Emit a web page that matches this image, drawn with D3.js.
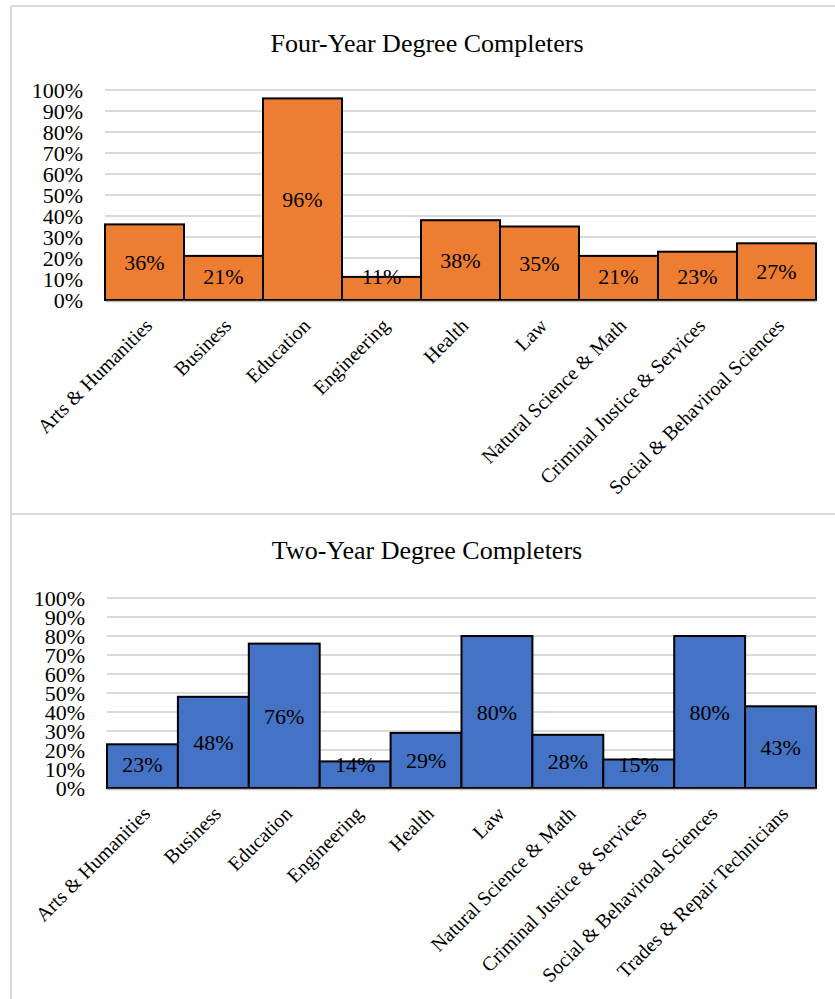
<!DOCTYPE html>
<html>
<head>
<meta charset="utf-8">
<script src="https://cdn.jsdelivr.net/npm/d3@7"></script>
<style>
  html, body { margin: 0; padding: 0; background: #fff; }
  svg { display: block; }
  text { font-family: "Liberation Serif", "Times New Roman", serif; fill: #000; }
</style>
</head>
<body>
<svg id="chart" width="835" height="999"></svg>
<script>
// Share of completers by field of study
const fourYearTitle = "Four-Year Degree Completers";
const fourYearCategories = ["Arts & Humanities", "Business", "Education", "Engineering", "Health", "Law",
  "Natural Science & Math", "Criminal Justice & Services", "Social & Behaviroal Sciences"];
const fourYearValues = [0.36, 0.21, 0.96, 0.11, 0.38, 0.35, 0.21, 0.23, 0.27];

const twoYearTitle = "Two-Year Degree Completers";
const twoYearCategories = ["Arts & Humanities", "Business", "Education", "Engineering", "Health", "Law",
  "Natural Science & Math", "Criminal Justice & Services", "Social & Behaviroal Sciences",
  "Trades & Repair Technicians"];
const twoYearValues = [0.23, 0.48, 0.76, 0.14, 0.29, 0.80, 0.28, 0.15, 0.80, 0.43];

const yTicks = [0, 0.1, 0.2, 0.3, 0.4, 0.5, 0.6, 0.7, 0.8, 0.9, 1.0];

const svg = d3.select("#chart");
const pct = d3.format(".0%");

// Panel frames
const frame = svg.append("g").attr("stroke", "#d9d9d9").attr("stroke-width", 2);
frame.append("line").attr("x1", 11).attr("x2", 835).attr("y1", 6).attr("y2", 6);
frame.append("line").attr("x1", 11).attr("x2", 11).attr("y1", 6).attr("y2", 999);
frame.append("line").attr("x1", 11).attr("x2", 835).attr("y1", 514).attr("y2", 514);

function drawPanel(cfg) {
  const g = svg.append("g");
  const x = d3.scaleBand().domain(cfg.categories).range([cfg.left, cfg.right]).padding(0);
  const y = d3.scaleLinear().domain([0, 1]).range([cfg.bottom, cfg.top]);

  // Title
  g.append("text")
    .attr("x", cfg.titleX).attr("y", cfg.titleY)
    .attr("text-anchor", "middle")
    .attr("font-size", 26)
    .text(cfg.title);

  // Gridlines
  g.append("g").selectAll("line").data(yTicks.filter(t => t > 0)).join("line")
    .attr("x1", cfg.left).attr("x2", cfg.right)
    .attr("y1", d => y(d)).attr("y2", d => y(d))
    .attr("stroke", "#d9d9d9").attr("stroke-width", 2);

  // Y axis labels
  const yAxis = d3.axisLeft(y).tickValues(yTicks).tickFormat(pct).tickSize(0).tickPadding(0);
  const ya = g.append("g").attr("transform", `translate(${cfg.left - 22},0)`).call(yAxis);
  ya.select(".domain").remove();
  ya.selectAll("text")
    .attr("font-family", "Liberation Serif, Times New Roman, serif")
    .attr("font-size", 22).attr("fill", "#000").attr("dy", "0.34em");

  // Bars
  g.append("g").selectAll("rect").data(cfg.values).join("rect")
    .attr("x", (d, i) => x(cfg.categories[i]))
    .attr("width", x.bandwidth())
    .attr("y", d => y(d))
    .attr("height", d => y(0) - y(d))
    .attr("fill", cfg.color)
    .attr("stroke", "#000").attr("stroke-width", 2);

  // Category axis line with boundary ticks
  g.append("line")
    .attr("x1", cfg.left).attr("x2", cfg.right)
    .attr("y1", y(0) + 1.5).attr("y2", y(0) + 1.5)
    .attr("stroke", "#bfbfbf").attr("stroke-width", 1.5);

  // Value labels, centred in each bar but kept inside the plot area
  g.append("g").selectAll("text").data(cfg.values).join("text")
    .attr("x", (d, i) => x(cfg.categories[i]) + x.bandwidth() / 2)
    .attr("y", d => Math.min((y(d) + y(0)) / 2, y(0) - 23.5))
    .attr("dy", "0.35em")
    .attr("text-anchor", "middle")
    .attr("font-size", 22)
    .text(d => pct(d));

  // Rotated category labels
  g.append("g").selectAll("text").data(cfg.categories).join("text")
    .attr("transform", d => `translate(${x(d) + x.bandwidth() / 2 + 9},${y(0) + 27}) rotate(-45)`)
    .attr("text-anchor", "end")
    .attr("font-size", 20)
    .text(d => d);
}

drawPanel({
  title: fourYearTitle, categories: fourYearCategories, values: fourYearValues,
  color: "#ED7D31", left: 105, right: 816, top: 90, bottom: 300,
  titleX: 427, titleY: 52
});

drawPanel({
  title: twoYearTitle, categories: twoYearCategories, values: twoYearValues,
  color: "#4472C4", left: 107, right: 816, top: 598, bottom: 788,
  titleX: 427, titleY: 559
});
</script>
</body>
</html>
